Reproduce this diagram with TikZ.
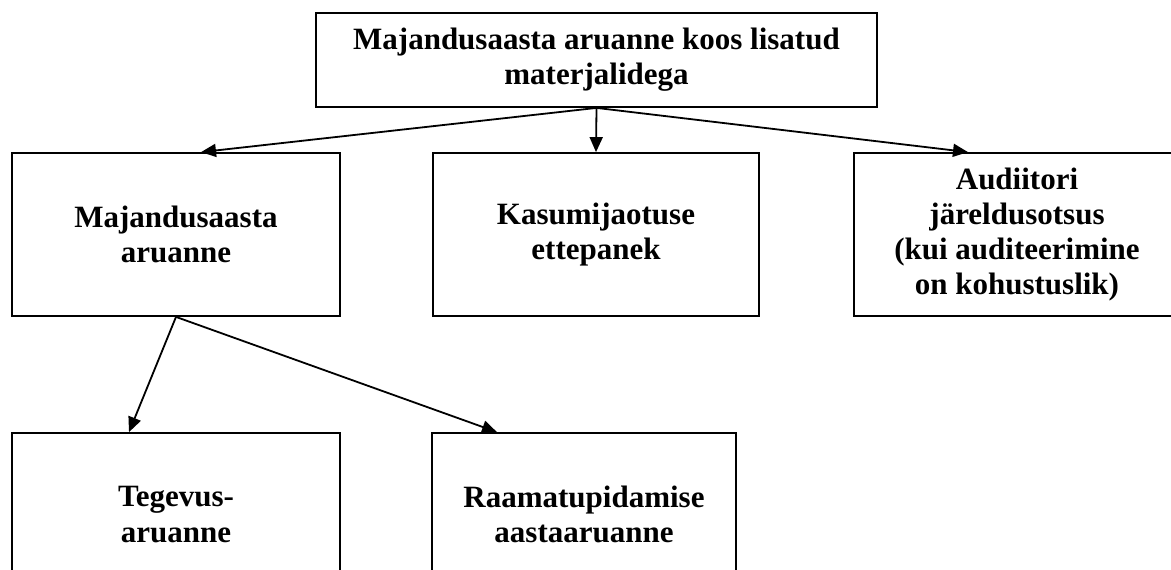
\documentclass[tikz,border=0pt]{standalone}
\usepackage{fontspec}
\setmainfont{Liberation Serif}
\usetikzlibrary{arrows.meta}
\begin{document}
\begin{tikzpicture}[x=0.5pt,y=-0.5pt,
  box/.style={draw, line width=0.9pt, align=center, inner sep=0pt,
    font=\bfseries\fontsize{15.5}{17.6}\selectfont, minimum height=81.5pt},
  arr/.style={-{Triangle[length=7.5pt,width=6.5pt]}, line width=0.9pt}]
  \useasboundingbox (0,0) rectangle (1171,569);
  \clip (0,0) rectangle (1171,569);

  \node[box, minimum width=280.5pt, minimum height=47pt] (top) at (596.5,60)
    {Majandusaasta aruanne koos lisatud\\materjalidega};
  \node[box, minimum width=164pt] (ma) at (176,234.5) {Majandusaasta\\aruanne};
  \node[box, minimum width=163pt] (kj) at (596,234.5) {Kasumijaotuse\\ettepanek};
  \node[box, minimum width=163pt] (ad) at (1017,234.5)
    {Audiitori\\järeldusotsus\\(kui auditeerimine\\on kohustuslik)};
  \node[box, minimum width=164pt] (tg) at (176,514.5) {Tegevus-\\aruanne};
  \node[box, minimum width=152pt] (rp) at (584,514.5) {Raamatupidamise\\aastaaruanne};

  \foreach \to/\dx in {ma/12.5pt, kj/0pt, ad/-24.5pt}
    \draw[arr] (top.south) -- ([xshift=\dx]\to.north);
  \foreach \to/\dx in {tg/-23.5pt, rp/-43.5pt}
    \draw[arr] (ma.south) -- ([xshift=\dx]\to.north);
\end{tikzpicture}
\end{document}
